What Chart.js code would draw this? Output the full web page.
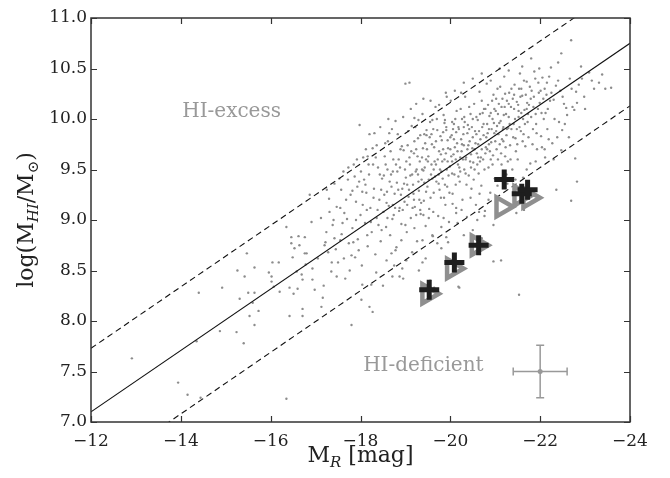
<!DOCTYPE html>
<html>
<head>
<meta charset="utf-8">
<script src="https://cdn.jsdelivr.net/npm/chart.js@4.4.1/dist/chart.umd.min.js"></script>
<style>
  body { margin: 0; background: #fff; }
  #wrap { width: 670px; height: 478px; }
</style>
</head>
<body>
<div id="wrap"><canvas id="hiChart"></canvas></div>
<script>
// galaxy sample: [M_R, log(M_HI/Msun)]
const galaxyPoints = [
  [-12.91, 7.63], [-13.94, 7.39], [-14.15, 7.27], [-14.44, 7.24], [-14.4, 8.28], [-14.35, 7.80],
  [-14.87, 7.90], [-14.92, 8.33], [-15.26, 8.50], [-15.24, 7.89], [-15.31, 8.22], [-15.4, 7.78],
  [-15.42, 8.44], [-15.47, 8.67], [-15.5, 8.28], [-15.53, 8.05], [-15.64, 8.53], [-15.64, 8.28],
  [-15.64, 7.96], [-15.73, 8.10], [-15.6, 8.18], [-15.96, 8.48], [-16.02, 8.44], [-16.02, 8.39],
  [-16.04, 8.58], [-16.18, 8.58], [-16.07, 8.34], [-16.2, 8.29], [-16.35, 8.93], [-16.46, 8.83],
  [-16.46, 8.77], [-16.53, 8.72], [-16.62, 8.84], [-16.76, 8.83], [-16.64, 8.75], [-16.49, 8.63],
  [-16.58, 8.49], [-16.69, 8.46], [-16.71, 8.41], [-16.42, 8.33], [-16.51, 8.27], [-16.6, 8.32],
  [-16.76, 8.67], [-16.78, 8.56], [-16.42, 8.05], [-16.71, 8.12], [-16.71, 8.05], [-16.35, 7.23],
  [-16.87, 9.25], [-16.8, 8.67], [-16.93, 8.52], [-16.93, 8.41], [-16.98, 8.31], [-17.16, 8.23],
  [-17.13, 8.14], [-16.91, 8.98], [-17.24, 8.88], [-17.2, 8.75], [-17.36, 8.58], [-17.47, 8.44],
  [-17.47, 9.13], [-17.31, 9.08], [-17.64, 9.07], [-17.6, 8.97], [-17.76, 8.5], [-17.8, 8.65],
  [-18.02, 8.21], [-18.2, 8.14], [-18.27, 8.09], [-17.8, 7.96], [-18.04, 8.36], [-18.24, 8.36],
  [-18.58, 8.6], [-18.71, 8.44], [-18.87, 8.44], [-18.93, 8.52], [-19.02, 8.6], [-18.69, 8.67],
  [-18.8, 8.73], [-18.91, 8.80], [-19.38, 8.8], [-19.38, 8.58], [-19.6, 8.85], [-19.71, 8.77],
  [-19.91, 8.83], [-20.2, 8.33], [-20.16, 8.97], [-19.8, 8.93], [-20.13, 9.07], [-19.64, 8.33],
  [-20.18, 8.34],
  [-19.0, 10.35], [-19.09, 10.36], [-19.9, 10.26], [-20.24, 10.26], [-17.98, 9.94], [-18.31, 9.86],
  [-18.64, 9.86], [-18.36, 9.74], [-17.73, 9.52], [-17.53, 9.41], [-18.16, 9.63], [-17.87, 9.43],
  [-17.93, 9.33], [-17.82, 9.29], [-18.04, 9.28], [-19.2, 10.01], [-19.29, 9.99], [-19.6, 9.99],
  [-19.87, 9.96], [-20.04, 9.97], [-20.31, 10.02], [-19.47, 9.89], [-19.91, 9.89], [-20.13, 9.87],
  [-17.05, 8.62], [-17.12, 9.02], [-17.18, 8.35], [-17.22, 8.78], [-17.3, 9.21], [-17.35, 8.49],
  [-17.38, 8.95], [-17.42, 9.36], [-17.45, 8.71], [-17.5, 8.58], [-17.55, 9.12], [-17.58, 8.86],
  [-17.62, 9.48], [-17.66, 8.42], [-17.7, 9.01], [-17.74, 8.77], [-17.78, 9.25],
  [-17.82, 8.92], [-17.85, 9.55], [-17.88, 8.63], [-17.9, 9.18], [-17.94, 8.81], [-17.97, 9.38],
  [-18.0, 9.05], [-18.03, 8.55], [-18.06, 9.62], [-18.1, 8.97], [-18.13, 9.27], [-18.16, 8.74],
  [-18.19, 9.45], [-18.22, 9.12], [-18.25, 8.88], [-18.27, 9.71], [-18.3, 9.31], [-18.33, 8.66],
  [-18.36, 9.02], [-18.39, 9.52], [-18.42, 9.2], [-18.45, 8.79], [-18.48, 9.41], [-18.51, 9.08],
  [-18.54, 9.63], [-18.57, 8.93], [-18.59, 9.28], [-18.61, 9.78], [-18.63, 9.14], [-18.66, 8.85],
  [-18.68, 9.45], [-18.71, 9.01], [-18.73, 9.6], [-18.76, 9.26], [-18.78, 8.7], [-18.81, 9.37],
  [-18.83, 9.85], [-18.86, 9.09], [-18.88, 9.52], [-18.91, 8.96], [-18.93, 9.31], [-18.96, 9.69],
  [-18.98, 9.18], [-19.01, 9.42], [-19.03, 8.88], [-19.05, 9.74], [-19.07, 9.23], [-19.1, 9.55],
  [-19.12, 9.02], [-19.14, 9.93], [-19.17, 9.35], [-19.19, 9.66], [-19.21, 9.13], [-19.23, 9.48],
  [-19.26, 8.79], [-19.28, 9.81], [-19.3, 9.29], [-19.32, 9.58], [-19.34, 9.06], [-19.36, 9.4],
  [-19.38, 10.05], [-19.39, 9.71], [-19.41, 9.19], [-19.43, 9.52], [-19.45, 8.94], [-19.47, 9.84],
  [-19.49, 9.33], [-19.51, 9.63], [-19.53, 9.11], [-19.55, 9.97], [-19.57, 9.45], [-19.59, 9.75],
  [-19.61, 8.84], [-19.63, 9.27], [-19.65, 9.58], [-19.67, 10.12], [-19.69, 9.38], [-19.71, 9.89],
  [-19.73, 9.04], [-19.75, 9.68], [-19.77, 9.5], [-19.79, 9.22], [-19.81, 9.79], [-19.83, 9.41],
  [-19.85, 10.04], [-19.87, 9.6], [-19.89, 9.15], [-19.91, 9.92], [-19.93, 9.33], [-19.95, 9.71],
  [-19.97, 8.98], [-19.99, 9.53], [-20.01, 10.18], [-20.03, 9.84], [-20.05, 9.26], [-20.07, 9.65],
  [-20.09, 9.45], [-20.11, 10.0], [-20.13, 9.12], [-20.15, 9.76], [-20.17, 9.55], [-20.19, 9.9],
  [-20.21, 9.38], [-20.23, 10.1], [-20.25, 9.68], [-20.27, 9.2], [-20.29, 9.85], [-20.31, 9.5],
  [-20.33, 10.22], [-20.35, 9.62], [-20.37, 9.03], [-20.39, 9.94], [-20.41, 9.44], [-20.43, 9.78],
  [-20.45, 10.05], [-20.47, 9.31], [-20.49, 9.71], [-20.51, 9.57], [-20.53, 10.15], [-20.55, 9.88],
  [-20.57, 9.15], [-20.59, 9.66], [-20.61, 9.99], [-20.63, 9.46], [-20.65, 10.27], [-20.67, 9.8],
  [-20.69, 9.34], [-20.71, 9.92], [-20.73, 9.6], [-20.75, 10.1], [-20.77, 9.09], [-20.79, 9.72],
  [-20.81, 10.35], [-20.83, 9.86], [-20.85, 9.52], [-20.87, 10.03], [-20.89, 9.27], [-20.91, 9.77],
  [-20.93, 10.18], [-20.95, 9.64], [-20.97, 9.96], [-20.99, 9.41], [-21.01, 10.08], [-21.03, 9.7],
  [-21.05, 10.3], [-21.07, 9.85], [-21.1, 9.2], [-21.12, 9.98], [-21.14, 9.55], [-21.16, 10.2],
  [-21.18, 9.78], [-21.2, 10.42], [-21.22, 9.63], [-21.24, 10.05], [-21.27, 9.36], [-21.29, 9.91],
  [-21.31, 10.26], [-21.33, 9.74], [-21.35, 10.12], [-21.38, 9.5], [-21.41, 9.95], [-21.43, 10.34],
  [-21.45, 9.81], [-21.48, 10.17], [-21.5, 9.6], [-21.52, 10.02], [-21.55, 10.45], [-21.57, 9.88],
  [-21.6, 10.23], [-21.62, 9.42], [-21.65, 10.09], [-21.67, 9.73], [-21.7, 10.37], [-21.72, 9.97],
  [-21.75, 10.14], [-21.78, 9.56], [-21.81, 10.28], [-21.84, 9.9], [-21.87, 10.47], [-21.9, 10.05],
  [-21.93, 9.7], [-21.96, 10.36], [-21.99, 10.16], [-22.02, 9.83], [-22.05, 10.41], [-22.08, 10.0],
  [-22.11, 9.62], [-22.14, 10.24], [-22.17, 10.1], [-22.2, 10.42], [-22.24, 10.51], [-22.27, 9.76],
  [-22.3, 10.19], [-22.35, 10.33], [-22.38, 9.82], [-22.42, 9.97], [-22.45, 10.28], [-22.49, 9.89],
  [-22.53, 10.15], [-22.58, 10.11], [-22.6, 10.04], [-22.64, 9.82], [-22.7, 10.3], [-22.76, 10.09],
  [-22.8, 10.27], [-22.82, 10.16], [-22.93, 10.4], [-22.98, 10.22], [-23.09, 10.46], [-23.2, 10.3],
  [-23.31, 10.36], [-23.38, 10.44], [-23.58, 10.31], [-22.78, 9.61], [-22.47, 9.69], [-22.36, 9.30],
  [-22.69, 10.78], [-22.47, 10.65], [-22.4, 10.56], [-22.91, 10.52], [-22.82, 9.38], [-22.69, 9.19],
  [-21.53, 8.26], [-20.96, 8.59], [-21.13, 8.60], [-20.96, 8.95], [-20.76, 9.04], [-20.64, 9.08],
  [-21.47, 9.07], [-21.64, 9.10], [-20.6, 9.0],
  [-18.35, 8.48], [-18.5, 8.35], [-18.75, 8.55], [-18.95, 8.42], [-19.15, 8.68], [-19.3, 8.5],
  [-19.45, 8.62], [-19.55, 8.4], [-19.8, 8.72], [-19.95, 8.78], [-20.3, 8.85], [-20.5, 8.9],
  [-20.7, 8.82],
  [-18.52, 9.44], [-18.58, 9.17], [-18.69, 9.33], [-18.74, 9.05], [-18.85, 9.6], [-18.9, 9.25],
  [-19.02, 9.58], [-19.08, 9.3], [-19.16, 9.12], [-19.2, 9.78], [-19.25, 9.5], [-19.31, 9.2],
  [-19.37, 9.62], [-19.42, 9.37], [-19.48, 9.7], [-19.52, 9.02], [-19.58, 9.55], [-19.62, 9.9],
  [-19.66, 9.43], [-19.72, 9.6], [-19.76, 9.3], [-19.82, 9.58], [-19.86, 9.22], [-19.9, 9.66],
  [-19.96, 9.44], [-20.0, 9.82], [-20.04, 9.58], [-20.08, 9.95], [-20.12, 9.35], [-20.16, 9.68],
  [-20.2, 9.52], [-20.24, 9.8], [-20.28, 9.6], [-20.32, 9.97], [-20.36, 9.35], [-20.4, 9.74],
  [-20.44, 9.58], [-20.48, 9.92], [-20.52, 9.4], [-20.56, 9.76], [-20.6, 9.55], [-20.64, 9.88],
  [-20.68, 9.62], [-20.72, 10.06], [-20.76, 9.5], [-20.8, 9.82], [-20.84, 10.14], [-20.88, 9.68],
  [-20.92, 9.9], [-20.96, 10.24], [-21.0, 9.78], [-21.04, 9.93], [-21.08, 10.15], [-21.13, 9.66],
  [-21.17, 9.9], [-21.21, 10.12], [-21.25, 9.84], [-21.3, 10.02], [-21.34, 9.6], [-21.39, 10.2],
  [-21.44, 10.0], [-21.49, 9.75], [-21.53, 10.3], [-21.58, 10.06], [-21.63, 9.85], [-21.68, 10.24],
  [-21.73, 10.05], [-21.79, 10.2], [-21.85, 10.12], [-21.91, 9.95], [-21.97, 10.26], [-22.03, 10.06],
  [-22.1, 10.3], [-22.16, 9.9], [-22.22, 10.18],
  [-18.82, 9.48], [-18.87, 9.12], [-18.92, 9.73], [-18.97, 9.36], [-19.04, 9.15], [-19.06, 9.88],
  [-19.11, 9.44], [-19.13, 9.68], [-19.18, 9.26], [-19.22, 9.92], [-19.24, 9.05], [-19.27, 9.63],
  [-19.29, 9.38], [-19.33, 9.84], [-19.35, 9.17], [-19.4, 9.49], [-19.44, 9.76], [-19.46, 9.28],
  [-19.5, 9.58], [-19.54, 9.82], [-19.56, 9.22], [-19.6, 9.41], [-19.64, 9.72], [-19.68, 9.55],
  [-19.7, 10.0], [-19.74, 9.36], [-19.78, 9.83], [-19.8, 9.48], [-19.84, 9.7], [-19.88, 9.99],
  [-19.92, 9.5], [-19.94, 9.79], [-19.98, 9.27], [-20.02, 9.63], [-20.06, 9.9], [-20.1, 9.72],
  [-20.14, 10.08], [-20.18, 9.43], [-20.22, 9.62], [-20.26, 10.0], [-20.3, 9.74], [-20.34, 9.46],
  [-20.38, 9.86], [-20.42, 10.12], [-20.46, 9.65], [-20.5, 9.82], [-20.54, 9.5], [-20.58, 10.02],
  [-20.62, 9.75], [-20.66, 9.58], [-20.7, 10.18], [-20.74, 9.84], [-20.78, 9.66], [-20.82, 9.95],
  [-20.86, 9.75], [-20.9, 10.06], [-20.94, 9.55], [-20.98, 9.86], [-21.02, 10.2], [-21.06, 9.6],
  [-21.09, 9.96], [-21.11, 10.32], [-21.15, 9.8], [-21.19, 10.04], [-21.23, 9.72], [-21.26, 10.18],
  [-21.28, 9.58], [-21.32, 9.95], [-21.36, 10.3], [-21.4, 9.82], [-21.42, 10.1], [-21.46, 9.68],
  [-21.51, 10.14], [-21.54, 9.92], [-21.56, 10.22], [-21.61, 9.78], [-21.64, 10.38], [-21.66, 9.95],
  [-21.71, 10.16], [-21.74, 9.82], [-21.77, 10.32], [-21.8, 10.02], [-21.83, 9.75], [-21.86, 10.22],
  [-21.89, 10.4], [-21.92, 9.86], [-21.95, 10.1], [-21.98, 10.5], [-22.01, 10.28], [-22.04, 9.72],
  [-22.07, 10.2], [-22.12, 10.06], [-22.15, 10.36], [-22.19, 9.8], [-22.25, 10.26], [-22.32, 10.0],
  [-22.4, 10.38], [-22.5, 10.22], [-22.55, 9.95], [-22.66, 10.4], [-22.72, 10.12], [-22.86, 10.34],
  [-23.0, 10.1], [-23.15, 10.38], [-23.45, 10.3],
  [-18.12, 9.7], [-18.2, 9.85], [-18.44, 9.92], [-18.55, 9.76], [-18.62, 10.0], [-18.7, 9.9],
  [-18.78, 9.98], [-18.95, 10.02], [-19.12, 10.1], [-19.24, 10.15], [-19.4, 10.2], [-19.56, 10.18],
  [-19.75, 10.14], [-19.92, 10.22], [-20.1, 10.28], [-20.3, 10.36], [-20.5, 10.4], [-20.7, 10.45],
  [-20.9, 10.38], [-21.1, 10.5], [-21.3, 10.48], [-21.6, 10.52], [-21.8, 10.6],
  [-19.0, 8.95], [-19.2, 8.92], [-19.4, 9.05], [-19.62, 9.08], [-19.85, 9.02], [-20.05, 9.16],
  [-20.25, 9.1], [-20.45, 9.22], [-20.65, 9.26], [-20.85, 9.2], [-21.05, 9.34], [-21.25, 9.45],
  [-21.45, 9.4], [-21.7, 9.5], [-21.9, 9.58], [-22.1, 9.7], [-22.3, 9.6],
  [-19.46, 9.6], [-19.52, 9.4], [-19.58, 9.85], [-19.63, 9.5], [-19.68, 9.78], [-19.74, 9.45],
  [-19.79, 9.65], [-19.84, 9.87], [-19.88, 9.35], [-19.94, 9.58], [-20.0, 9.7], [-20.04, 9.46],
  [-20.08, 9.8], [-20.12, 9.6], [-20.18, 9.92], [-20.22, 9.48], [-20.26, 9.75], [-20.3, 9.92],
  [-20.34, 9.6], [-20.38, 9.7], [-20.42, 9.9], [-20.46, 9.52], [-20.5, 10.0], [-20.54, 9.7],
  [-20.58, 9.85], [-20.62, 9.62], [-20.66, 10.05], [-20.7, 9.7], [-20.74, 9.95], [-20.78, 10.1],
  [-20.82, 9.7], [-20.86, 9.9], [-20.9, 9.6], [-20.94, 10.0], [-20.98, 10.1], [-21.02, 9.88],
  [-21.06, 10.05], [-21.1, 9.75], [-21.14, 10.12], [-21.18, 9.92], [-21.22, 10.25], [-21.26, 9.9],
  [-21.3, 10.15], [-21.36, 9.9], [-21.42, 10.24], [-21.48, 9.9], [-21.52, 10.08], [-21.58, 10.3],
  [-21.62, 10.0], [-21.7, 10.1],
  [-17.25, 9.3], [-17.4, 9.0], [-17.55, 8.8], [-17.68, 9.2], [-17.9, 9.0], [-18.05, 9.15],
  [-18.15, 8.85], [-18.28, 9.55], [-18.4, 8.95], [-18.46, 9.3], [-18.6, 9.5], [-18.72, 9.15],
  [-18.08, 9.4], [-18.14, 9.1], [-18.18, 9.55], [-18.23, 8.98], [-18.29, 9.22], [-18.34, 9.62],
  [-18.38, 9.1], [-18.43, 9.45], [-18.47, 8.9], [-18.53, 9.25], [-18.56, 9.55], [-18.6, 9.02],
  [-18.65, 9.38], [-18.67, 9.68], [-18.72, 9.48], [-18.77, 9.12], [-18.79, 9.55], [-18.84, 9.3],
  [-18.89, 9.7], [-18.94, 9.1], [-18.99, 9.5], [-19.04, 9.35], [-19.09, 9.62], [-19.15, 9.45],
  [-19.19, 9.2], [-19.24, 9.7], [-19.28, 9.45], [-19.33, 9.1], [-19.37, 9.5], [-19.42, 9.85],
  [-17.28, 8.68], [-17.42, 8.82], [-17.57, 9.3], [-17.63, 8.62], [-17.72, 9.4], [-17.84, 8.78],
  [-17.92, 9.6], [-17.96, 8.7], [-18.01, 9.48], [-18.11, 9.35]
];

// highlighted galaxies
const plusMag = [-19.53, -20.09, -20.63, -21.2, -21.59, -21.72];
const plusLogMHI = [8.31, 8.58, 8.75, 9.40, 9.26, 9.30];
const triMag = [-19.5, -20.05, -20.6, -21.15, -21.55, -21.75];
const triLogMHI = [8.27, 8.52, 8.75, 9.13, 9.24, 9.22];

// scaling relation and its scatter band (end points)
const relMag = [-12, -24];
const relMean = [7.10, 10.75];
const relUpper = [7.73, 11.38];
const relLower = [6.47, 10.13];

// typical error bar
const errMag = -22.0, errLogMHI = 7.5, errDMag = 0.6, errDLog = 0.26;

const xTicks = [-12, -14, -16, -18, -20, -22, -24];
const yTicks = [7.0, 7.5, 8.0, 8.5, 9.0, 9.5, 10.0, 10.5, 11.0];

const regionLabels = [
  { text: 'HI-excess', x: -15.13, y: 10.07 },
  { text: 'HI-deficient', x: -19.4, y: 7.56 }
];

const SERIF = '"DejaVu Serif", "Liberation Serif", serif';
const GREY = '#999999';

function pairs(xs, ys) { return xs.map((v, i) => ({ x: v, y: ys[i] })); }

function drawParts(ctx, parts, cx, cy) {
  let total = 0;
  parts.forEach(p => { ctx.font = p.font; p.w = ctx.measureText(p.text).width; total += p.w; });
  let px = cx - total / 2;
  parts.forEach(p => {
    ctx.font = p.font;
    ctx.fillText(p.text, px, cy + (p.dy || 0));
    px += p.w;
  });
}

const decorPlugin = {
  id: 'decor',
  beforeDatasetsDraw(chart) {
    const { ctx, scales: { x, y } } = chart;
    ctx.save();
    ctx.fillStyle = GREY;
    ctx.font = '20px ' + SERIF;
    ctx.textAlign = 'center';
    ctx.textBaseline = 'middle';
    regionLabels.forEach(l => ctx.fillText(l.text, x.getPixelForValue(l.x), y.getPixelForValue(l.y)));
    ctx.restore();
  },
  afterDraw(chart) {
    const { ctx, chartArea: a, scales: { x, y } } = chart;
    ctx.save();
    ctx.strokeStyle = '#333';
    ctx.lineWidth = 1.5;
    ctx.strokeRect(a.left, a.top, a.right - a.left, a.bottom - a.top);
    ctx.lineWidth = 1.2;
    ctx.beginPath();
    xTicks.forEach(v => {
      const px = Math.round(x.getPixelForValue(v)) + 0.5;
      ctx.moveTo(px, a.bottom); ctx.lineTo(px, a.bottom - 6);
      ctx.moveTo(px, a.top); ctx.lineTo(px, a.top + 6);
    });
    yTicks.forEach(v => {
      const py = Math.round(y.getPixelForValue(v)) + 0.5;
      ctx.moveTo(a.left, py); ctx.lineTo(a.left + 6, py);
      ctx.moveTo(a.right, py); ctx.lineTo(a.right - 6, py);
    });
    ctx.stroke();

    // axis titles with subscripts
    ctx.fillStyle = '#222';
    ctx.textAlign = 'left';
    ctx.textBaseline = 'alphabetic';
    const big = '22px ' + SERIF, sub = 'italic 15px ' + SERIF, subUp = '15px ' + SERIF;
    drawParts(ctx, [
      { text: 'M', font: big },
      { text: 'R', font: sub, dy: 5 },
      { text: ' [mag]', font: big }
    ], (a.left + a.right) / 2, 462);

    ctx.translate(33, (a.top + a.bottom) / 2);
    ctx.rotate(-Math.PI / 2);
    drawParts(ctx, [
      { text: 'log(M', font: big },
      { text: 'HI', font: sub, dy: 5 },
      { text: '/M', font: big },
      { text: '\u2299', font: subUp, dy: 5 },
      { text: ')', font: big }
    ], 0, 0);
    ctx.restore();
  }
};

const lineStyle = { showLine: true, pointRadius: 0, borderColor: '#111', borderWidth: 1.1, fill: false };

new Chart(document.getElementById('hiChart'), {
  type: 'scatter',
  data: {
    datasets: [
      {
        data: pairs(plusMag, plusLogMHI), pointStyle: 'cross', pointRadius: 10,
        borderColor: '#1e1e1e', borderWidth: 5, order: 0
      },
      {
        data: pairs(triMag, triLogMHI), pointStyle: 'triangle', rotation: 90, pointRadius: 11,
        borderColor: '#8f8f8f', borderWidth: 4.5, backgroundColor: 'rgba(0,0,0,0)', order: 1
      },
      {
        data: [{ x: errMag - errDMag, y: errLogMHI }, { x: errMag + errDMag, y: errLogMHI }],
        ...lineStyle, borderColor: GREY, borderWidth: 1.5, order: 2
      },
      {
        data: [{ x: errMag, y: errLogMHI - errDLog }, { x: errMag, y: errLogMHI + errDLog }],
        ...lineStyle, borderColor: GREY, borderWidth: 1.5, order: 2
      },
      {
        data: [{ x: errMag - errDMag, y: errLogMHI }, { x: errMag + errDMag, y: errLogMHI }],
        pointStyle: 'line', rotation: 90, pointRadius: 4, borderColor: GREY, borderWidth: 1.5, order: 2
      },
      {
        data: [{ x: errMag, y: errLogMHI - errDLog }, { x: errMag, y: errLogMHI + errDLog }],
        pointStyle: 'line', pointRadius: 4, borderColor: GREY, borderWidth: 1.5, order: 2
      },
      {
        data: [{ x: errMag, y: errLogMHI }], pointRadius: 2.5, backgroundColor: GREY, borderWidth: 0, order: 2
      },
      { data: pairs(relMag, relMean), ...lineStyle, order: 3 },
      { data: pairs(relMag, relUpper), ...lineStyle, borderDash: [6, 4], order: 3 },
      { data: pairs(relMag, relLower), ...lineStyle, borderDash: [6, 4], order: 3 },
      {
        data: galaxyPoints.map(p => ({ x: p[0], y: p[1] })),
        pointRadius: 1.2, backgroundColor: '#8c8c8c', borderWidth: 0, order: 4
      }
    ]
  },
  options: {
    responsive: true,
    maintainAspectRatio: false,
    animation: false,
    layout: { padding: { left: 0, right: 40, top: 18, bottom: 0 } },
    plugins: { legend: { display: false }, tooltip: { enabled: false } },
    scales: {
      x: {
        type: 'linear', min: -24, max: -12, reverse: true,
        grid: { display: false, drawTicks: false },
        border: { display: false },
        afterFit(s) { s.height = 56; },
        afterBuildTicks(s) { s.ticks = xTicks.map(v => ({ value: v })); },
        ticks: {
          padding: 9, color: '#222', font: { family: SERIF, size: 17 },
          callback: v => String(v).replace('-', '\u2212')
        }
      },
      y: {
        type: 'linear', min: 7, max: 11,
        grid: { display: false, drawTicks: false },
        border: { display: false },
        afterFit(s) { s.width = 91; },
        afterBuildTicks(s) { s.ticks = yTicks.map(v => ({ value: v })); },
        ticks: {
          padding: 4, color: '#222', font: { family: SERIF, size: 17 },
          callback: v => Number(v).toFixed(1)
        }
      }
    }
  },
  plugins: [decorPlugin]
});
</script>
</body>
</html>
